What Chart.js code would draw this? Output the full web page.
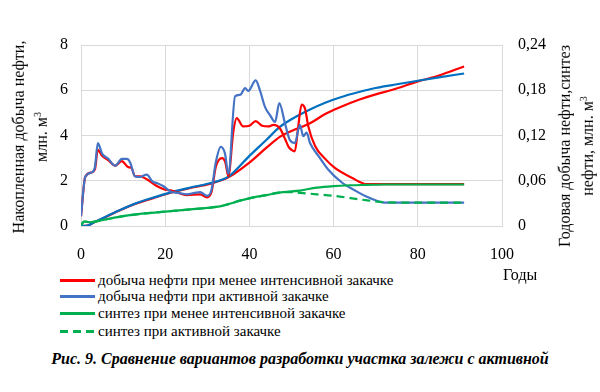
<!DOCTYPE html>
<html>
<head>
<meta charset="utf-8">
<script src="https://cdn.jsdelivr.net/npm/chart.js@4/dist/chart.umd.min.js"></script>
<style>
  body { margin: 0; width: 600px; height: 392px; background: #fff; position: relative; overflow: hidden;
         font-family: "Times New Roman", "Liberation Serif", "DejaVu Serif", serif; color: #000; }
  #wrap { position: absolute; left: 0; top: 0; width: 600px; height: 270px; }
  .ytitle { position: absolute; width: 260px; text-align: center; font-size: 16px; line-height: 19px;
            transform: translate(-50%, -50%) rotate(-90deg); white-space: nowrap; }
  .leg { position: absolute; left: 60px; height: 18px; font-size: 15px; line-height: 18px; white-space: nowrap; }
  .leg .swatch { position: absolute; left: 0; top: 8px; width: 35px; height: 3px; }
  .leg .txt { position: absolute; left: 38px; top: 0; }
</style>
</head>
<body>
<div id="wrap"><canvas id="chart"></canvas></div>

<div class="ytitle" style="left:30px; top:137px;">Накопленная добыча нефти,<br>млн. м<sup style="font-size:10px">3</sup></div>
<div class="ytitle" style="left:576px; top:146px;">Годовая добыча нефти,синтез<br>нефти, млн. м<sup style="font-size:10px">3</sup></div>
<div style="position:absolute; left:503px; top:266px; font-size:16px;">Годы</div>

<div class="leg" style="top:271px;"><div class="swatch" style="background:#ff0000"></div><div class="txt">добыча нефти при менее интенсивной закачке</div></div>
<div class="leg" style="top:287px;"><div class="swatch" style="background:#4472c4"></div><div class="txt">добыча нефти при активной закачке</div></div>
<div class="leg" style="top:304px;"><div class="swatch" style="background:#00b050"></div><div class="txt">синтез при менее интенсивной закачке</div></div>
<div class="leg" style="top:322px;"><div class="swatch" style="background:repeating-linear-gradient(90deg,#00b050 0 8px,transparent 8px 13px)"></div><div class="txt">синтез при активной закачке</div></div>

<div style="position:absolute; left:0; top:350px; width:600px; text-align:center; font-size:16px; font-weight:bold; font-style:italic;">Рис. 9. Сравнение вариантов разработки участка залежи с активной</div>

<script>
// annual oil production, mln m3 per year (right axis)
const redAnnualYears = [0, 1, 2.5, 3.3, 4, 5, 6.5, 8.1, 9.7, 11.2, 12, 12.8, 14, 15.6, 18, 20, 21.5, 23, 25.1, 28.3, 29.9, 31, 32, 33.5, 34.3, 35, 36.2, 37, 38.5, 40, 41.5, 43, 44.5, 45.7, 47.3, 48.5, 49.3, 50, 50.8, 51.6, 52.4, 53.2, 54, 55.6, 58, 60.3, 64.3, 67.9, 91];
const redAnnual = [0.013, 0.065, 0.071, 0.075, 0.101, 0.093, 0.087, 0.080, 0.086, 0.078, 0.077, 0.066, 0.066, 0.062, 0.053, 0.048, 0.047, 0.044, 0.041, 0.042, 0.038, 0.045, 0.078, 0.090, 0.084, 0.066, 0.126, 0.143, 0.132, 0.133, 0.139, 0.133, 0.132, 0.134, 0.129, 0.115, 0.105, 0.101, 0.099, 0.132, 0.161, 0.156, 0.132, 0.106, 0.089, 0.077, 0.064, 0.0555, 0.0555];

const blueAnnualYears = [0, 1, 2.5, 3.3, 4, 5, 6.5, 8.1, 9.7, 10.9, 11.7, 12.8, 14, 15.6, 17, 18, 19.5, 21.5, 23, 25.1, 27, 28.3, 29.9, 31, 32, 33.2, 34.2, 35, 36.6, 37.8, 39, 39.7, 41.5, 42.5, 43.7, 44.9, 46.1, 47.1, 48.5, 49.6, 50.8, 52, 52.8, 53.6, 54.4, 56.4, 58.7, 61.9, 65.1, 68.2, 72.2, 74, 91];
const blueAnnual = [0.013, 0.065, 0.071, 0.078, 0.110, 0.096, 0.089, 0.080, 0.089, 0.089, 0.084, 0.066, 0.065, 0.068, 0.059, 0.057, 0.053, 0.045, 0.044, 0.042, 0.044, 0.045, 0.040, 0.048, 0.084, 0.105, 0.096, 0.069, 0.172, 0.174, 0.183, 0.179, 0.193, 0.180, 0.158, 0.147, 0.138, 0.163, 0.135, 0.114, 0.110, 0.134, 0.119, 0.124, 0.110, 0.093, 0.075, 0.058, 0.047, 0.038, 0.031, 0.031, 0.031];

// oil synthesis, mln m3 per year (right axis)
const synthYears = [0, 0.8, 2, 3.5, 7, 10, 14, 18, 22, 26, 30, 33, 35, 38, 41, 44, 48, 52, 56, 60, 64, 68, 72, 91];
const synthLess = [0.0015, 0.006, 0.005, 0.006, 0.010, 0.013, 0.016, 0.018, 0.020, 0.022, 0.024, 0.026, 0.029, 0.034, 0.038, 0.041, 0.045, 0.047, 0.051, 0.053, 0.054, 0.0545, 0.055, 0.055];
const synthActiveYears = [0, 0.8, 2, 3.5, 7, 10, 14, 18, 22, 26, 30, 33, 35, 38, 41, 44, 48, 50, 52, 56, 60, 64, 68, 72, 75, 91];
const synthActive = [0.0015, 0.006, 0.005, 0.006, 0.010, 0.013, 0.016, 0.018, 0.020, 0.022, 0.024, 0.026, 0.029, 0.034, 0.038, 0.041, 0.045, 0.045, 0.044, 0.042, 0.040, 0.037, 0.034, 0.0315, 0.031, 0.031];

// cumulative oil production, mln m3 (left axis)
const cumYears = [0, 1.5, 3, 6, 9, 13, 18, 22, 26, 30.6, 35, 40, 44, 47.3, 50, 54.4, 58, 61.5, 66, 70, 74, 80, 85, 91];
const cumRed = [0, 0.02, 0.15, 0.41, 0.67, 0.98, 1.28, 1.5, 1.68, 1.86, 2.15, 2.8, 3.45, 3.95, 4.2, 4.54, 4.95, 5.25, 5.58, 5.82, 6.02, 6.39, 6.65, 7.05];
const cumBlue = [0, 0.02, 0.15, 0.42, 0.68, 1.0, 1.3, 1.52, 1.7, 1.89, 2.18, 3.1, 3.8, 4.39, 4.72, 5.15, 5.45, 5.68, 5.92, 6.1, 6.23, 6.42, 6.57, 6.74];

const xTicks = [0, 20, 40, 60, 80, 100];

const pts = (xs, ys) => xs.map((x, i) => ({ x: x, y: ys[i] }));

const RED = "#ff0000";
const BLUE_ANNUAL = "#4472c4";
const BLUE_CUM = "#0070c0";
const GREEN = "#00b050";
const GRID = "#d9d9d9";
const tickFont = { family: "'Times New Roman', 'Liberation Serif', 'DejaVu Serif', serif", size: 16 };

const line = (label, data, color, axis, extra) => Object.assign({
    label: label,
    data: data,
    yAxisID: axis,
    borderColor: color,
    backgroundColor: color,
    borderWidth: 2.2,
    pointRadius: 0,
    fill: false,
    cubicInterpolationMode: "monotone"
}, extra || {});

new Chart(document.getElementById("chart"), {
    type: "line",
    data: {
        datasets: [
            line("синтез при активной закачке", pts(synthActiveYears, synthActive), GREEN, "y2", { borderDash: [8, 5] }),
            line("синтез при менее интенсивной закачке", pts(synthYears, synthLess), GREEN, "y2"),
            line("добыча нефти при активной закачке", pts(blueAnnualYears, blueAnnual), BLUE_ANNUAL, "y2"),
            line("добыча нефти при менее интенсивной закачке", pts(redAnnualYears, redAnnual), RED, "y2"),
            line("накопленная, активная", pts(cumYears, cumBlue), BLUE_CUM, "y"),
            line("накопленная, менее интенсивная", pts(cumYears, cumRed), RED, "y")
        ]
    },
    options: {
        responsive: true,
        maintainAspectRatio: false,
        animation: false,
        layout: { padding: { top: 45, left: 0, right: 0, bottom: 0 } },
        plugins: { legend: { display: false }, tooltip: { enabled: false } },
        scales: {
            x: {
                type: "linear",
                min: 0,
                max: 100,
                afterBuildTicks: (scale) => { scale.ticks = xTicks.map(v => ({ value: v })); },
                afterFit: (scale) => { scale.height = 44; },
                grid: { color: GRID, drawTicks: false },
                border: { color: GRID },
                ticks: { font: tickFont, color: "#000", padding: 19, maxRotation: 0 }
            },
            y: {
                position: "left",
                min: 0,
                max: 8,
                afterFit: (scale) => { scale.width = 81; },
                grid: { color: GRID, drawTicks: false },
                border: { color: GRID },
                ticks: { stepSize: 2, font: tickFont, color: "#000", padding: 13 }
            },
            y2: {
                position: "right",
                min: 0,
                max: 0.24,
                afterFit: (scale) => { scale.width = 98; },
                grid: { drawOnChartArea: false, drawTicks: false },
                border: { color: GRID },
                ticks: {
                    stepSize: 0.06,
                    font: tickFont,
                    color: "#000",
                    padding: 16,
                    callback: (v) => v === 0 ? "0" : v.toFixed(2).replace(".", ",")
                }
            }
        }
    }
});
</script>
</body>
</html>
